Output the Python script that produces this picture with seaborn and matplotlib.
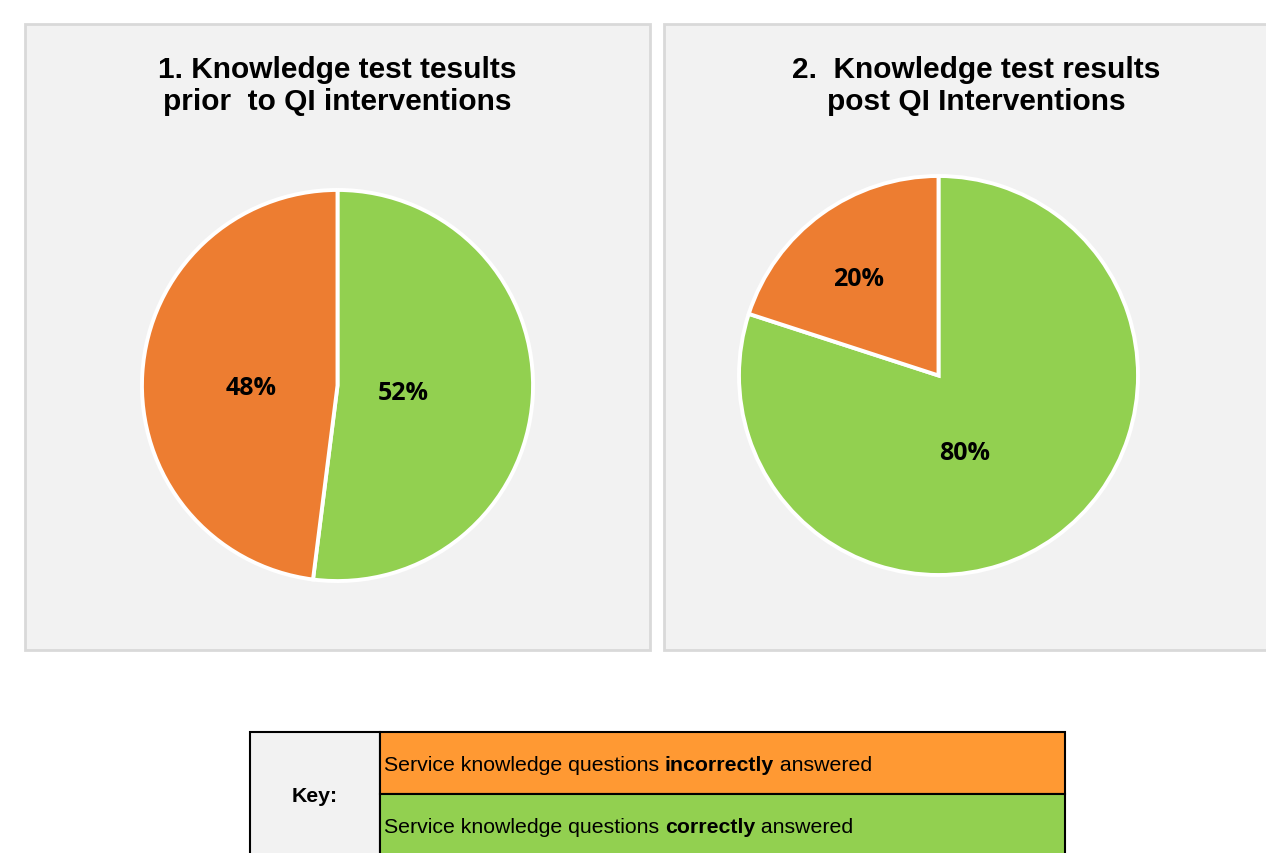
import numpy as np
import matplotlib.pyplot as plt
import seaborn as sns
from matplotlib.patches import Rectangle

# data
titles = ["1. Knowledge test tesults\nprior  to QI interventions",
          "2.  Knowledge test results\npost QI Interventions"]
categories = ["correctly", "incorrectly"]
prior = [52, 48]
post = [80, 20]
key_label = "Key:"
key_rows = [("Service knowledge questions ", "incorrectly", " answered"),
            ("Service knowledge questions ", "correctly", " answered")]

pie_colors = {"correctly": "#92d050", "incorrectly": "#ed7d31"}
key_colors = ["#ff9933", "#92d050"]

sns.set_style("white")
plt.rcParams['font.family'] = ['Liberation Sans', 'DejaVu Sans']
plt.rcParams['text.color'] = 'black'

W, H = 1266, 854
fig = plt.figure(figsize=(W / 100, H / 100), dpi=100)


def fx(px):
    return px / W


def fy(py):
    return 1 - py / H


# grey panels behind the pies
for left in [25, 664]:
    fig.patches.append(Rectangle((fx(left), fy(651)), fx(625), 626 / H,
                                 transform=fig.transFigure, facecolor="#f2f2f2",
                                 edgecolor="#d9d9d9", lw=2, zorder=-5))

# pie axes: (center x, center y, radius) in pixels
pie_boxes = [(337.5, 386.5, 197.5), (938.5, 376.5, 201.5)]
label_dist = [[0.336, 0.443], [0.406, 0.627]]
label_shift = [[-2.4, 5.2], [-17, 3.5]]
title_x = [337.5, 976]

for i, vals in enumerate([prior, post]):
    cx, cy, r = pie_boxes[i]
    ax = fig.add_axes([fx(cx - r), fy(cy + r), fx(2 * r), 2 * r / H], zorder=2)
    ax.patch.set_visible(False)
    wedges, _ = ax.pie(vals, colors=[pie_colors[c] for c in categories],
                       startangle=90, counterclock=False,
                       wedgeprops=dict(edgecolor="white", linewidth=2.8))
    ax.set_xlim(-1.01, 1.01)
    ax.set_ylim(-1.01, 1.01)
    ax.set_aspect("equal")
    ax.axis("off")
    for j, w in enumerate(wedges):
        ang = np.deg2rad((w.theta1 + w.theta2) / 2 + label_shift[i][j])
        d = label_dist[i][j]
        ax.text(d * np.cos(ang), d * np.sin(ang), f"{vals[j]}%",
                ha="center", va="center", fontsize=18, fontweight="bold",
                family=["Open Sans", "DejaVu Sans"], color="black")
    fig.text(fx(title_x[i]), fy(86), titles[i], ha="center", va="center",
             fontsize=21.5, fontweight="bold", linespacing=1.15, color="black")

# key table
tab_l, tab_r, key_r = 250, 1065, 380
row_top = [733, 795]
row_h = 62
fig.patches.append(Rectangle((fx(tab_l), fy(row_top[0] + 2 * row_h)), fx(key_r - tab_l), 2 * row_h / H,
                             transform=fig.transFigure, facecolor="#f2f2f2",
                             edgecolor="black", lw=1.5, zorder=1))
fig.text(fx((tab_l + key_r) / 2), fy(row_top[1] + 2), key_label, ha="center", va="center",
         fontsize=15.3, fontweight="bold", color="black")

fig.canvas.draw()
renderer = fig.canvas.get_renderer()
for k, (a, b, c) in enumerate(key_rows):
    top = row_top[k]
    fig.patches.append(Rectangle((fx(key_r), fy(top + row_h)), fx(tab_r - key_r), row_h / H,
                                 transform=fig.transFigure, facecolor=key_colors[k],
                                 edgecolor="black", lw=1.5, zorder=1))
    x = key_r + 4
    for part, weight in [(a, "normal"), (b, "bold"), (c, "normal")]:
        t = fig.text(fx(x), fy(top + row_h / 2 + 2), part, ha="left", va="center",
                     fontsize=15.3, fontweight=weight, color="black")
        bb = t.get_window_extent(renderer)
        x += bb.width

fig.savefig("out.png", dpi=100)
